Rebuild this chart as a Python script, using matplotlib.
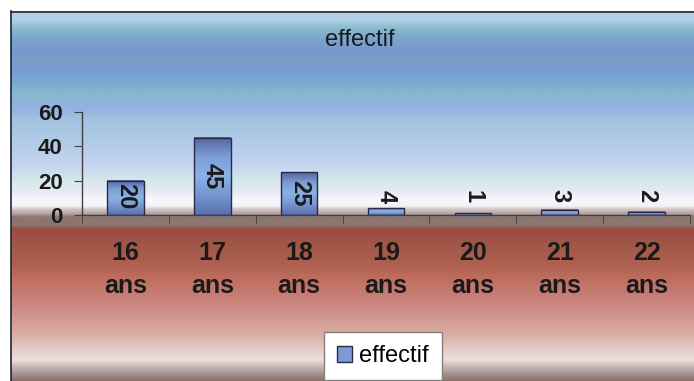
import numpy as np
import matplotlib
matplotlib.use('Agg')
import matplotlib.pyplot as plt
from matplotlib.patches import Rectangle
from matplotlib.colors import to_rgb, LinearSegmentedColormap

# data
categories = ['16\nans', '17\nans', '18\nans', '19\nans', '20\nans', '21\nans', '22\nans']
effectif = [20, 45, 25, 4, 1, 3, 2]
series_name = 'effectif'
yticks = [0, 20, 40, 60]

plt.rcParams['font.family'] = ['Liberation Sans', 'DejaVu Sans']

W, H = 694, 381


def background_image():
    # (pixel row, colour) stops for the blue sky / red floor backdrop
    stops = [
        (11, '#b8d0e8'), (20, '#b0d0e6'), (28, '#88bcd0'), (38, '#7aa6cc'),
        (52, '#7896d0'), (60, '#78a0c2'), (68, '#7898d0'), (80, '#78a8d0'),
        (95, '#88b8d0'), (108, '#92b2e0'), (120, '#a0c4e0'), (145, '#b4cce8'),
        (165, '#c4d4f0'), (180, '#d4e8e8'), (190, '#e4e8f4'), (200, '#f6f8fc'),
        (206, '#f4f4f8'), (209, '#d8c8c8'), (214, '#b0a0a0'), (217, '#8c7670'),
        (225, '#8c7670'), (229, '#9a4c40'), (245, '#a05848'), (265, '#b06050'),
        (280, '#c07060'), (298, '#c88078'), (318, '#d09890'), (336, '#dcb0a8'),
        (350, '#e4ccc8'), (360, '#ece0dc'), (365, '#d0c0bc'), (371, '#b0a0a0'),
        (381, '#8a7068'),
    ]
    ys = [s[0] for s in stops]
    cols = np.array([to_rgb(s[1]) for s in stops])
    rows = np.arange(11, H) + 0.5
    img = np.stack([np.interp(rows, ys, cols[:, k]) for k in range(3)], axis=1)
    return img[:, None, :]


fig = plt.figure(figsize=(W / 100, H / 100), dpi=100, facecolor='white')

bg = fig.add_axes([0, 0, 1, 1])
bg.imshow(background_image(), aspect='auto', extent=(11, W, H, 11), interpolation='bilinear')
bg.plot([11.5, 11.5], [11, H], color='#1c2633', lw=1.2)
bg.plot([11, W], [11.5, 11.5], color='#1c2633', lw=1.2)
bg.set_xlim(0, W)
bg.set_ylim(H, 0)
bg.axis('off')

ax = fig.add_axes([82 / W, (H - 215) / H, (690 - 82) / W, (215 - 112) / H])
ax.patch.set_alpha(0)

x = np.arange(len(categories))
bars = ax.bar(x, effectif, width=0.42, facecolor='none', edgecolor='#2a2a48',
              linewidth=1, zorder=3)

bar_cmap = LinearSegmentedColormap.from_list(
    'barfill', ['#5a70ae', '#7596d0', '#8ab2e6', '#7e9ed8', '#56659f'])
grad = np.linspace(0, 1, 64).reshape(-1, 1)
for bar in bars:
    x0 = bar.get_x()
    ax.imshow(grad, extent=(x0, x0 + bar.get_width(), 0, bar.get_height()),
              origin='lower', aspect='auto', cmap=bar_cmap, clip_path=bar, zorder=2)

for xi, v in zip(x, effectif):
    ax.text(xi, max(v / 2, 11), str(v), rotation=-90, ha='center', va='center',
            fontsize=17, fontweight='bold', color='#1a1a1a', zorder=4)

ax.set_xlim(-0.5, len(categories) - 0.5)
ax.set_ylim(0, 60)
ax.set_yticks(yticks)
ax.set_yticklabels([str(t) for t in yticks], fontsize=16, fontweight='bold', color='#1a1a1a')
ax.set_xticks(x)
ax.set_xticklabels(categories, fontsize=18, fontweight='bold', color='#1a1a1a',
                   linespacing=1.45)
ax.set_xticks(np.arange(-0.5, len(categories), 1), minor=True)
ax.tick_params(axis='x', which='major', length=0, pad=19)
ax.tick_params(axis='x', which='minor', length=6.5, direction='out', color='#404040')
ax.tick_params(axis='y', length=6, direction='out', color='#404040', pad=8)

for side in ['top', 'right']:
    ax.spines[side].set_visible(False)
for side in ['left', 'bottom']:
    ax.spines[side].set_color('#404040')
    ax.spines[side].set_linewidth(1)

fig.text(360 / W, 1 - 40 / H, series_name, ha='center', va='center', fontsize=17,
         color='#1a1a1a')

handle = Rectangle((0, 0), 1, 1, facecolor='#7c9ad4', edgecolor='#2a2a48', linewidth=1)
leg = fig.legend([handle], [series_name], loc='center',
                 bbox_to_anchor=(383 / W, 1 - 356 / H), fontsize=17,
                 frameon=True, fancybox=False, framealpha=1, edgecolor='#808080',
                 handlelength=0.65, handleheight=0.65, handletextpad=0.3,
                 borderpad=0.55)
leg.get_frame().set_linewidth(1)

fig.savefig('out.png', dpi=100)
